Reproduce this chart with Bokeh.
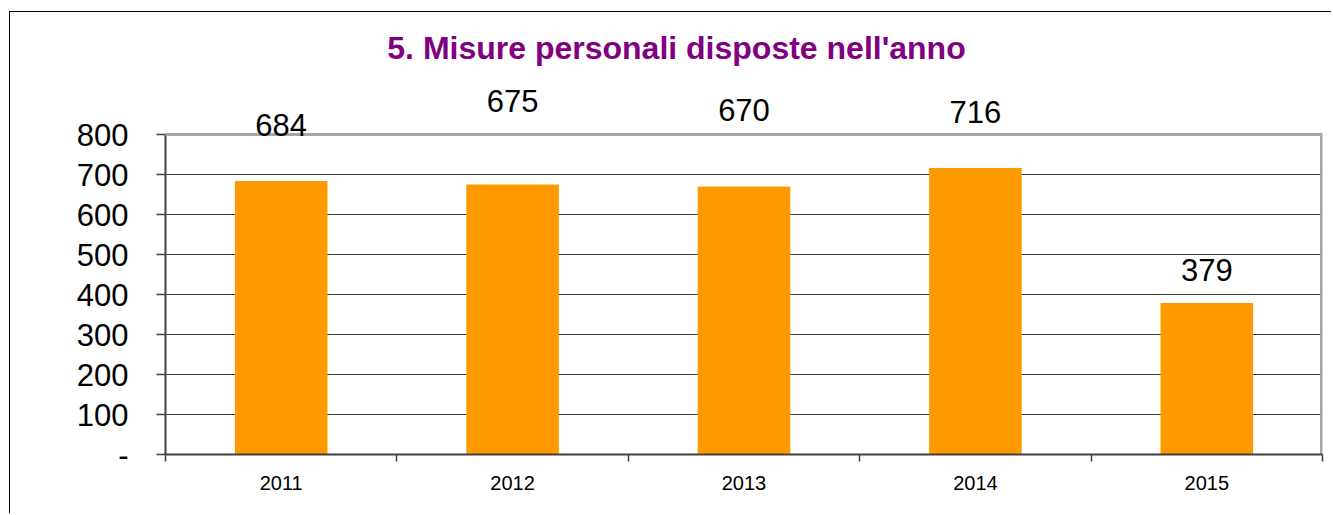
from bokeh.plotting import figure
from bokeh.models import (ColumnDataSource, Range1d, FixedTicker, LinearAxis,
                          LabelSet, Label, Grid, Span)
from bokeh.core.properties import value
from bokeh.embed import file_html
from bokeh.resources import INLINE

years = ["2011", "2012", "2013", "2014", "2015"]
values = [684, 675, 670, 716, 379]
# label lift above bar top, in pixels (as placed in the original)
label_lift = [56, 84, 77, 56, 33]
y_ticks = [0, 100, 200, 300, 400, 500, 600, 700, 800]
y_tick_labels = ["-", "100", "200", "300", "400", "500", "600", "700", "800"]
title_text = "5. Misure personali disposte nell'anno"

xpos = [i + 0.5 for i in range(len(years))]
src = ColumnDataSource(dict(x=xpos, v=values, lab=[str(v) for v in values],
                            off=label_lift))

FONT = "Liberation Sans"
YMAX = y_ticks[-1]

# frame extends to the top of the chart so the title and labels are not clipped
p = figure(width=1322, height=502, output_backend="svg", toolbar_location=None,
           x_range=Range1d(0, len(years)), y_range=Range1d(0, 1105),
           x_axis_type=None, y_axis_type=None,
           min_border_left=155, min_border_right=10, min_border_top=0,
           min_border_bottom=60)
p.styles = {"border-left": "1.5px solid black", "border-top": "1.5px solid black",
            "margin-left": "9px", "margin-top": "11px"}
p.background_fill_color = "white"
p.border_fill_color = "white"
p.outline_line_color = None

# y axis
ya = LinearAxis(ticker=FixedTicker(ticks=y_ticks, minor_ticks=[]), bounds=(0, YMAX))
ya.major_label_overrides = {t: l for t, l in zip(y_ticks, y_tick_labels)}
ya.major_label_text_font = FONT
ya.major_label_text_font_size = "31px"
ya.major_label_text_color = "black"
ya.major_tick_out = 9
ya.major_tick_in = 0
ya.major_tick_line_color = "#404040"
ya.major_tick_line_width = 1.5
ya.axis_line_color = "#404040"
ya.axis_line_width = 2
ya.major_label_standoff = 28
p.add_layout(ya, "left")

# x axis
xa = LinearAxis(ticker=FixedTicker(ticks=xpos, minor_ticks=list(range(len(years) + 1))))
xa.major_label_overrides = {x: y for x, y in zip(xpos, years)}
xa.major_label_text_font = FONT
xa.major_label_text_font_size = "20px"
xa.major_label_text_color = "black"
xa.major_tick_out = 0
xa.major_tick_in = 0
xa.minor_tick_out = 7
xa.minor_tick_in = 0
xa.minor_tick_line_color = "#404040"
xa.minor_tick_line_width = 1.5
xa.axis_line_color = "#404040"
xa.axis_line_width = 2
xa.major_label_standoff = 14
p.add_layout(xa, "below")

p.add_layout(Grid(dimension=1, ticker=FixedTicker(ticks=y_ticks[1:-1]),
                  grid_line_color="#404040", grid_line_width=1))

# plot-area border (top and right edges)
p.add_layout(Span(location=YMAX, dimension="width", line_color="#A6A6A6", line_width=3))
p.segment(x0=[len(years)], y0=[0], x1=[len(years)], y1=[YMAX],
          line_color="#A6A6A6", line_width=5)

p.vbar(x="x", top="v", width=0.4, bottom=0, source=src,
       fill_color="#FF9900", line_color=None)

labels = LabelSet(x="x", y="v", text="lab", y_offset="off", source=src,
                  text_align="center", text_baseline="middle",
                  text_font=value(FONT), text_font_size=value("31px"),
                  text_color="black")
p.add_layout(labels)

title = Label(x=511, y=407, x_units="screen", y_units="screen", text=title_text,
              text_align="center", text_baseline="middle", text_font=FONT,
              text_font_size="32px", text_font_style="bold", text_color="#800080")
p.add_layout(title)

open("out.html", "w").write(file_html(p, INLINE))
